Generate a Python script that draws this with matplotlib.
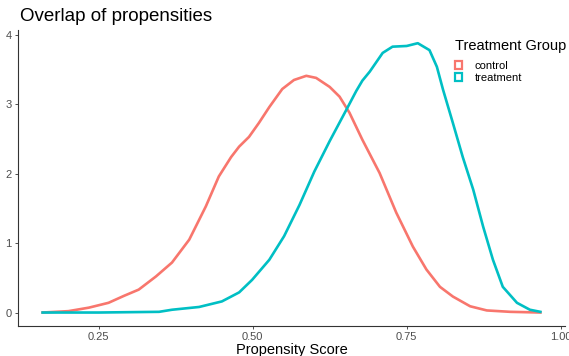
import matplotlib
matplotlib.use("Agg")
import matplotlib.pyplot as plt
from matplotlib.patches import Patch

plt.rcParams['font.family'] = ['Liberation Sans', 'DejaVu Sans']

# density curves
control_x = [0.159, 0.201, 0.234, 0.266, 0.291, 0.315, 0.343, 0.369, 0.397, 0.424,
             0.445, 0.465, 0.478, 0.494, 0.510, 0.527, 0.548, 0.567, 0.587, 0.603,
             0.625, 0.641, 0.657, 0.678, 0.706, 0.733, 0.760, 0.782, 0.804, 0.825,
             0.853, 0.880, 0.918, 0.967]
control_y = [0.0, 0.02, 0.07, 0.14, 0.24, 0.33, 0.52, 0.72, 1.05, 1.53,
             1.96, 2.24, 2.39, 2.53, 2.73, 2.96, 3.22, 3.35, 3.41, 3.38,
             3.25, 3.11, 2.88, 2.49, 2.01, 1.44, 0.95, 0.62, 0.37, 0.23,
             0.09, 0.03, 0.01, 0.0]

treat_x = [0.159, 0.250, 0.348, 0.369, 0.413, 0.450, 0.478, 0.499, 0.527, 0.551,
           0.576, 0.600, 0.625, 0.652, 0.668, 0.678, 0.690, 0.711, 0.727, 0.750,
           0.768, 0.787, 0.799, 0.809, 0.825, 0.841, 0.858, 0.874, 0.890, 0.906,
           0.929, 0.950, 0.967]
treat_y = [0.0, 0.0, 0.01, 0.04, 0.08, 0.16, 0.29, 0.47, 0.76, 1.10,
           1.55, 2.03, 2.47, 2.92, 3.19, 3.34, 3.47, 3.74, 3.83, 3.84,
           3.88, 3.78, 3.54, 3.21, 2.73, 2.24, 1.77, 1.24, 0.76, 0.37,
           0.14, 0.04, 0.01]

groups = ["control", "treatment"]
colors = ["#F8766D", "#00BFC4"]

fig = plt.figure(figsize=(5.69, 3.56), dpi=100)
ax = fig.add_axes([0.0316, 0.0843, 0.9614, 0.8314])

ax.plot(control_x, control_y, color=colors[0], lw=1.9, solid_joinstyle="round")
ax.plot(treat_x, treat_y, color=colors[1], lw=1.9, solid_joinstyle="round")

ax.set_xlim(0.119, 1.007)
ax.set_ylim(-0.194, 4.07)
ax.set_xticks([0.25, 0.50, 0.75, 1.00])
ax.set_xticklabels(["0.25", "0.50", "0.75", "1.00"])
ax.set_yticks([0, 1, 2, 3, 4])
ax.tick_params(colors="#333333", labelcolor="#4D4D4D", labelsize=8, length=2.5, width=0.6, pad=2)

for s in ["top", "right"]:
    ax.spines[s].set_visible(False)
for s in ["left", "bottom"]:
    ax.spines[s].set_color("#333333")
    ax.spines[s].set_linewidth(0.8)

ax.set_xlabel("Propensity Score", fontsize=10.5, labelpad=0.5)
fig.text(0.035, 0.955, "Overlap of propensities", fontsize=13.5, va="center", ha="left")

handles = [Patch(facecolor="white", edgecolor=c, linewidth=1.6) for c in colors]
leg = ax.legend(handles, groups, title="Treatment Group", loc="upper left",
                bbox_to_anchor=(0.79, 0.985), frameon=False, fontsize=8,
                title_fontsize=10.5, handlelength=0.7, handleheight=0.7,
                handletextpad=1.1, labelspacing=0.15, borderaxespad=0)
leg._legend_box.align = "left"
leg._legend_box.sep = 6

fig.savefig("out.png", dpi=100)
